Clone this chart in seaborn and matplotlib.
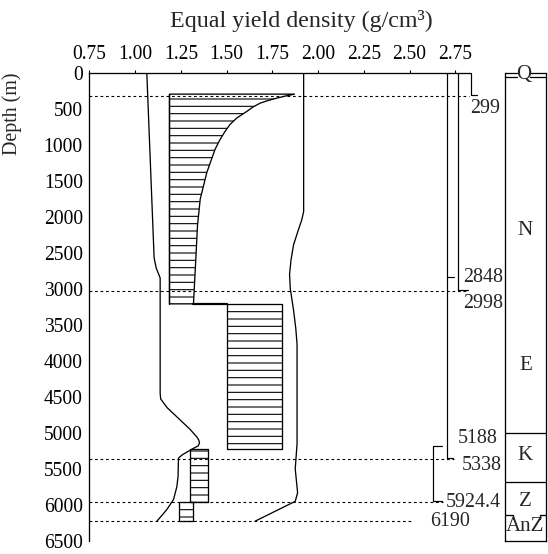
import numpy as np
import pandas as pd
import seaborn as sns
import matplotlib.pyplot as plt

# 曲線數據（深度 m，等效密度 g/cm3）
left_depth = [0, 2570, 2710, 2850, 4450, 4530, 4650, 4820, 4950, 5055, 5100, 5140, 5180, 5215, 5300, 5350, 5600, 5750, 5925, 6065, 6150, 6225]
left_dens = [1.064, 1.104, 1.115, 1.137, 1.137, 1.14, 1.175, 1.246, 1.30, 1.337, 1.348, 1.352, 1.345, 1.319, 1.26, 1.237, 1.235, 1.228, 1.21, 1.173, 1.145, 1.119]

right_depth = [0, 1930, 2050, 2200, 2390, 2600, 2800, 3000, 3300, 3550, 3770, 5150, 5500, 5830, 5950, 6225]
right_dens = [1.921, 1.921, 1.91, 1.89, 1.866, 1.852, 1.844, 1.848, 1.866, 1.878, 1.885, 1.885, 1.875, 1.888, 1.875, 1.656]

# 第一段陰影區（右邊界為曲線）
b1_depth = [300, 330, 355, 390, 424, 480, 539, 630, 720, 815, 940, 1066, 1387, 1755, 2122, 2580, 3210]
b1_right = [1.871, 1.815, 1.775, 1.725, 1.684, 1.643, 1.611, 1.556, 1.519, 1.492, 1.462, 1.437, 1.392, 1.356, 1.341, 1.332, 1.319]
b1_left = 1.188

# 其他矩形陰影區：上界, 下界, 左, 右
blk_top = [3210, 5225, 5960]
blk_bot = [5225, 5960, 6218]
blk_left = [1.50, 1.301, 1.242]
blk_right = [1.80, 1.401, 1.316]

# 虛線（深度, 右端位置）
dash_depth = [325, 3030, 5365, 5966, 6223]
dash_end = [2.827, 2.817, 2.74, 2.68, 2.52]

# 右側標註
lab_text = ['299', '2848', '2998', '5188', '5338', '5924.4', '6190']
lab_x = [2.833, 2.793, 2.793, 2.761, 2.783, 2.696, 2.610]
lab_depth = [495, 2842, 3207, 5081, 5457, 5962, 6234]

# 括號線：x, 上端, 下端, 端點刻度長度
br_x = [2.833, 2.767, 2.705, 2.628]
br_top = [0, 0, 0, 5186]
br_bot = [310, 3017, 5343, 5952]
br_tick = [0.037, 0.053, 0.033, 0.05]

# 地層柱
strat_names = ['N', 'E', 'K', 'Z', 'AnZ']
strat_label_depth = [2195, 4067, 5310, 5952, 6296]
strat_bounds = [5003, 5687]

DPI = 88
px = 72 / DPI  # 像素轉點

sns.set_theme(style='white')
plt.rcParams['font.family'] = ['Liberation Serif', 'DejaVu Serif']
plt.rcParams['hatch.linewidth'] = 1.1 * px

fig = plt.figure(figsize=(548 / DPI, 554 / DPI), dpi=DPI)
ax = fig.add_axes([0.163, 0.0235, 0.6947, 0.8456])

# 陰影區
ax.fill_betweenx(b1_depth, b1_left, b1_right, facecolor='none', edgecolor='black',
                 hatch='--', linewidth=1.3 * px)
ax.plot([b1_left, b1_left], [b1_depth[0], b1_depth[-1]], color='black', lw=1.3 * px)
for t, b, l, r in zip(blk_top, blk_bot, blk_left, blk_right):
    ax.fill_betweenx([t, b], l, r, facecolor='none', edgecolor='black', hatch='--', linewidth=1.3 * px)
# 台階連接線
ax.plot([b1_right[-1], blk_left[0]], [blk_top[0], blk_top[0]], color='black', lw=2.2 * px)

# 曲線
df_left = pd.DataFrame({'dens': left_dens, 'depth': left_depth})
df_right = pd.DataFrame({'dens': right_dens, 'depth': right_depth})
sns.lineplot(data=df_left, x='dens', y='depth', sort=False, estimator=None, color='black', lw=1.3 * px, ax=ax)
sns.lineplot(data=df_right, x='dens', y='depth', sort=False, estimator=None, color='black', lw=1.3 * px, ax=ax)

# 虛線
for d, e in zip(dash_depth, dash_end):
    ax.plot([0.75, e], [d, d], color='black', lw=1.1 * px, ls=(0, (2.5, 2.5)), clip_on=False)

# 括號
for x, t, b, k in zip(br_x, br_top, br_bot, br_tick):
    ax.plot([x, x, x + k], [t, b, b], color='black', lw=1.2 * px, clip_on=False)
    if t > 0:
        ax.plot([x, x + k], [t, t], color='black', lw=1.2 * px, clip_on=False)
# 2848 處小刻度
ax.plot([br_x[2], br_x[2] + 0.036], [2842, 2842], color='black', lw=1.2 * px, clip_on=False)

for s, x, d in zip(lab_text, lab_x, lab_depth):
    ax.text(x, d, s, ha='left', va='center', fontsize=20 * px, clip_on=False)

ax.set_xlim(0.75, 2.83)
ax.set_ylim(6500, 0)
ax.set_xticks(np.arange(0.75, 2.76, 0.25))
ax.set_xticklabels([f'{v:.2f}' for v in np.arange(0.75, 2.76, 0.25)])
ax.set_yticks(np.arange(0, 6501, 500))
ax.xaxis.tick_top()
ax.tick_params(axis='x', direction='out', length=3.5 * px, width=1.1 * px, pad=5 * px, labelsize=19.5 * px, colors='black')
ax.tick_params(axis='y', direction='out', length=5 * px, width=1.1 * px, pad=1.5 * px, labelsize=19.5 * px, colors='black')
ax.set_xlabel('')
ax.set_ylabel('')
for side in ['bottom', 'right']:
    ax.spines[side].set_visible(False)
for side in ['top', 'left']:
    ax.spines[side].set_linewidth(1.3 * px)
    ax.spines[side].set_color('black')

fig.text(301 / 548, 1 - 26.7 / 554, 'Equal yield density (g/cm³)', ha='center', va='baseline', fontsize=24 * px)
fig.text(12.5 / 548, 1 - 114 / 554, 'Depth (m)', ha='center', va='center', rotation=90, fontsize=20 * px)

# 地層柱
ax2 = fig.add_axes([0.9215, 0.0235, 0.0748, 0.8456])
ax2.set_xlim(0, 1)
ax2.set_ylim(6500, 0)
ax2.set_xticks([])
ax2.set_yticks([])
ax2.spines['top'].set_visible(False)
for side in ['bottom', 'left', 'right']:
    ax2.spines[side].set_linewidth(1.3 * px)
    ax2.spines[side].set_color('black')
for d in strat_bounds:
    ax2.plot([0, 1], [d, d], color='black', lw=1.3 * px)
for d in [0, 58]:
    ax2.plot([0, 0.285], [d, d], color='black', lw=1.3 * px, clip_on=False)
    ax2.plot([0.61, 1], [d, d], color='black', lw=1.3 * px, clip_on=False)
ax2.plot([0, 0.19, 0.19], [6145, 6145, 6200], color='black', lw=1.3 * px)
ax2.plot([1, 0.86, 0.86], [6145, 6145, 6200], color='black', lw=1.3 * px)
ax2.text(0.45, 34, 'Q', ha='center', va='center', fontsize=21 * px, clip_on=False)
for s, d in zip(strat_names, strat_label_depth):
    ax2.text(0.5, d, s, ha='center', va='center', fontsize=21 * px)

fig.savefig('out.png', dpi=DPI)
